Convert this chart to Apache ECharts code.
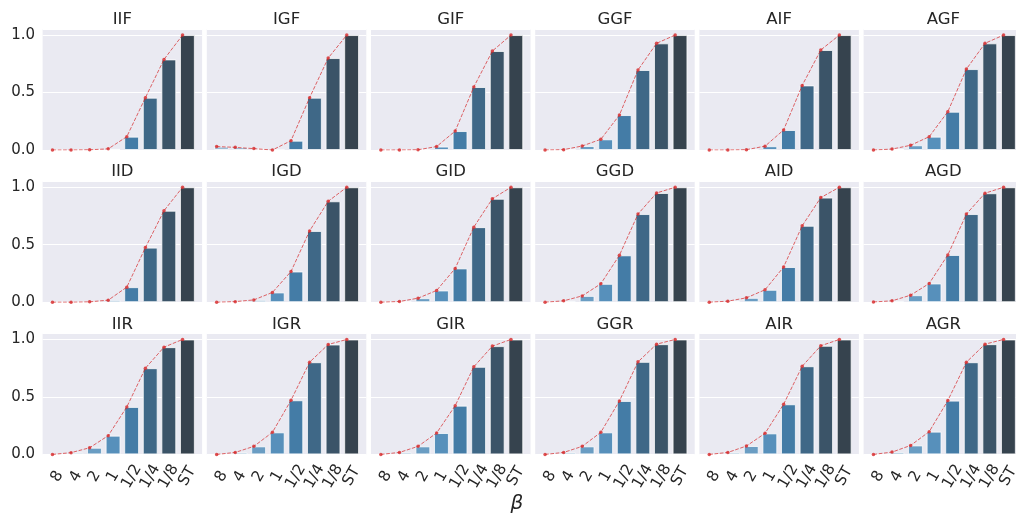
<!DOCTYPE html>
<html>
<head>
<meta charset="utf-8">
<script src="https://cdn.jsdelivr.net/npm/echarts@6/dist/echarts.min.js"></script>
<style>
  html, body { margin: 0; padding: 0; background: #ffffff; }
  #chart { width: 1016px; height: 515px; }
</style>
</head>
<body>
<div id="chart"></div>
<script>
// β settings along the x axis of every panel
const betas = ['8', '4', '2', '1', '1/2', '1/4', '1/8', 'ST'];
const yTicks = [0, 0.5, 1.0];

// Panel names, one row per line of the figure
const rowF = ['IIF', 'IGF', 'GIF', 'GGF', 'AIF', 'AGF'];
const rowD = ['IID', 'IGD', 'GID', 'GGD', 'AID', 'AGD'];
const rowR = ['IIR', 'IGR', 'GIR', 'GGR', 'AIR', 'AGR'];

// Values per panel, in the order of betas
const IIF = [0.000, 0.000, 0.002, 0.010, 0.116, 0.455, 0.788, 1.000];
const IGF = [0.030, 0.023, 0.012, 0.000, 0.081, 0.455, 0.800, 1.000];
const GIF = [0.000, 0.000, 0.002, 0.030, 0.165, 0.548, 0.861, 1.000];
const GGF = [0.000, 0.003, 0.035, 0.093, 0.304, 0.696, 0.928, 1.000];
const AIF = [0.000, 0.000, 0.003, 0.033, 0.174, 0.562, 0.870, 1.000];
const AGF = [0.000, 0.008, 0.041, 0.116, 0.333, 0.704, 0.928, 1.000];

const IID = [0.000, 0.000, 0.003, 0.018, 0.131, 0.475, 0.796, 1.000];
const IGD = [0.000, 0.005, 0.020, 0.085, 0.267, 0.620, 0.878, 1.000];
const GID = [0.000, 0.006, 0.035, 0.102, 0.294, 0.653, 0.900, 1.000];
const GGD = [0.000, 0.012, 0.055, 0.160, 0.408, 0.767, 0.950, 1.000];
const AID = [0.000, 0.009, 0.038, 0.108, 0.306, 0.665, 0.910, 1.000];
const AGD = [0.002, 0.012, 0.061, 0.163, 0.411, 0.767, 0.948, 1.000];

const IIR = [0.000, 0.015, 0.058, 0.163, 0.413, 0.750, 0.933, 1.000];
const IGR = [0.000, 0.017, 0.070, 0.192, 0.471, 0.802, 0.956, 1.000];
const GIR = [0.000, 0.017, 0.070, 0.186, 0.424, 0.762, 0.942, 1.000];
const GGR = [0.000, 0.017, 0.070, 0.192, 0.465, 0.805, 0.959, 1.000];
const AIR = [0.000, 0.017, 0.073, 0.183, 0.436, 0.767, 0.945, 1.000];
const AGR = [0.000, 0.020, 0.078, 0.198, 0.468, 0.802, 0.959, 1.000];

const panelValues = {
  IIF, IGF, GIF, GGF, AIF, AGF,
  IID, IGD, GID, GGD, AID, AGD,
  IIR, IGR, GIR, GGR, AIR, AGR
};
const panelRows = [rowF, rowD, rowR];

// Bar colours, light blue to dark slate
const barColors = ['#9dbdd6', '#7eaacb', '#6a9dc3', '#5790bb', '#447ca6', '#3f6887', '#3b5468', '#36434e'];

// Layout of the 3 x 6 panel grid
const colLeft0 = 42.6, colPitch = 164.2, panelW = 159.5;
const rowTop0 = 29.3, rowPitch = 152.2, panelH = 120.7;
const xMin = -0.79, xMax = 7.79;
const lineShift = -0.26;
const barW = 0.8 * panelW / (xMax - xMin);

const textColor = '#262626';
const fontFamily = 'DejaVu Sans';

const grids = [], xAxes = [], yAxes = [], series = [], graphics = [];

panelRows.forEach((names, r) => {
  names.forEach((name, c) => {
    const k = grids.length;
    const left = colLeft0 + c * colPitch;
    const top = rowTop0 + r * rowPitch;
    const vals = panelValues[name];

    grids.push({
      left: left, top: top, width: panelW, height: panelH,
      show: true, backgroundColor: '#eaeaf2', borderWidth: 0,
      containLabel: false, outerBoundsMode: 'none'
    });

    xAxes.push({
      type: 'value', gridIndex: k, min: xMin, max: xMax,
      axisLine: { show: false }, axisTick: { show: false },
      splitLine: { show: false },
      axisLabel: {
        show: r === 2,
        customValues: betas.map((b, i) => i),
        formatter: v => betas[Math.round(v)],
        rotate: 60, align: 'center', verticalAlign: 'middle',
        margin: 22, fontSize: 15.5, color: textColor, fontFamily: fontFamily
      }
    });

    yAxes.push({
      type: 'value', gridIndex: k, min: 0, max: 1.05, interval: 0.5,
      axisLine: { show: false }, axisTick: { show: false },
      splitLine: { show: true, lineStyle: { color: '#ffffff', width: 1 } },
      axisLabel: {
        show: c === 0,
        customValues: yTicks,
        formatter: v => v.toFixed(1),
        margin: 7.5, fontSize: 15, color: textColor, fontFamily: fontFamily
      }
    });

    series.push({
      type: 'bar', xAxisIndex: k, yAxisIndex: k,
      barWidth: barW,
      data: vals.map((v, i) => ({
        value: [i, v],
        itemStyle: { color: barColors[i] }
      })),
      itemStyle: { borderColor: 'rgba(255,255,255,0.75)', borderWidth: 1 },
      z: 2
    });

    series.push({
      type: 'line', xAxisIndex: k, yAxisIndex: k,
      data: vals.map((v, i) => [i + lineShift, v]),
      symbol: 'circle', symbolSize: 3.5, showSymbol: true,
      lineStyle: { color: 'rgba(214,39,40,0.7)', width: 1, type: [3.7, 1.6] },
      itemStyle: { color: 'rgba(214,39,40,0.8)' },
      z: 3
    });

    graphics.push({
      type: 'text',
      x: left + panelW / 2, y: 20 + r * rowPitch,
      style: {
        text: name, align: 'center', verticalAlign: 'middle',
        font: '16.5px "DejaVu Sans"', fill: textColor
      }
    });
  });
});

// Shared x-axis title
graphics.push({
  type: 'text', x: 517, y: 503.5,
  style: {
    text: 'β', align: 'center', verticalAlign: 'middle',
    font: 'italic 20px "DejaVu Sans"', fill: textColor
  }
});

const chart = echarts.init(document.getElementById('chart'), null, { renderer: 'canvas' });
chart.setOption({
  animation: false,
  backgroundColor: '#ffffff',
  grid: grids,
  xAxis: xAxes,
  yAxis: yAxes,
  series: series,
  graphic: graphics
});
</script>
</body>
</html>
